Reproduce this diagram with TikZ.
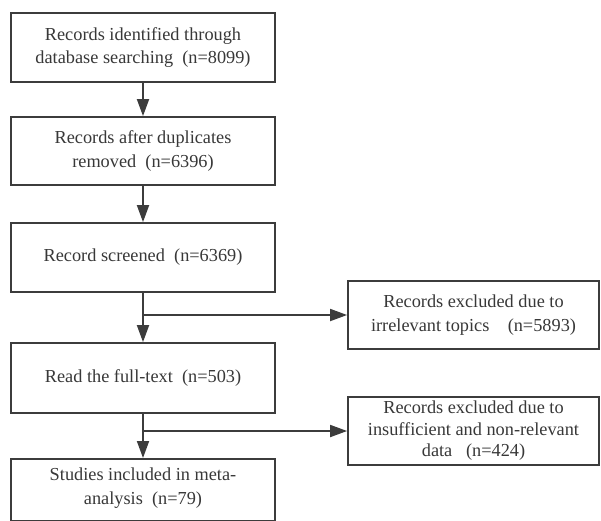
\documentclass[tikz,border=0pt]{standalone}
\usepackage{fontspec}
\setmainfont{Liberation Serif}
\usetikzlibrary{arrows.meta}
\definecolor{ln}{HTML}{3C3C3C}
\definecolor{tx}{HTML}{383838}
\tikzset{
  box/.style={draw=ln, line width=1.8pt, fill=white, align=center, text=tx,
    font=\fontsize{18.3}{23.5}\selectfont, inner sep=0pt},
  arr/.style={draw=ln, line width=1.8pt, -{Triangle[length=17pt,width=12pt]}},
  ln/.style={draw=ln, line width=1.8pt}
}
\begin{document}
\begin{tikzpicture}[x=1pt,y=-1pt]
\useasboundingbox (0,0) rectangle (601,520);
\node[box, minimum width=264pt, minimum height=69pt] (b1) at (143,47.5) {Records identified through\\database searching\ \ (n=8099)};
\node[box, minimum width=264pt, minimum height=68pt] (b2) at (143,151) {Records after duplicates\\removed\ \ (n=6396)};
\node[box, minimum width=264pt, minimum height=69pt] (b3) at (143,257.5) {Record screened\ \ (n=6369)};
\node[box, minimum width=264pt, minimum height=70pt] (b4) at (143,378) {Read the full-text\ \ (n=503)};
\node[box, minimum width=264pt, minimum height=62pt, anchor=north] (b5) at (143,458) {};
\node[text=tx, font=\fontsize{18.3}{23.5}\selectfont, align=center, anchor=north, inner sep=0pt] (t5) at (143,468) {Studies included in meta-\\analysis\ \ (n=79)};
\node[box, minimum width=251pt, minimum height=68pt] (r1) at (473.5,315) {Records excluded due to\\irrelevant topics\ \ \ \ (n=5893)};
\node[box, minimum width=251pt, minimum height=68pt, font=\fontsize{18.3}{21.5}\selectfont] (r2) at (473.5,431) {Records excluded due to\\insufficient and non-relevant\\data\ \ \ (n=424)};
\draw[arr] (b1) -- (b2);
\draw[arr] (b2) -- (b3);
\draw[arr] (b3) -- (b4);
\draw[arr] (b4) -- (b5);
\coordinate (j1) at (b3.south |- r1.west);
\coordinate (j2) at (b4.south |- r2.west);
\draw[arr] (j1) -- (r1.west);
\draw[arr] (j2) -- (r2.west);
\end{tikzpicture}
\end{document}
